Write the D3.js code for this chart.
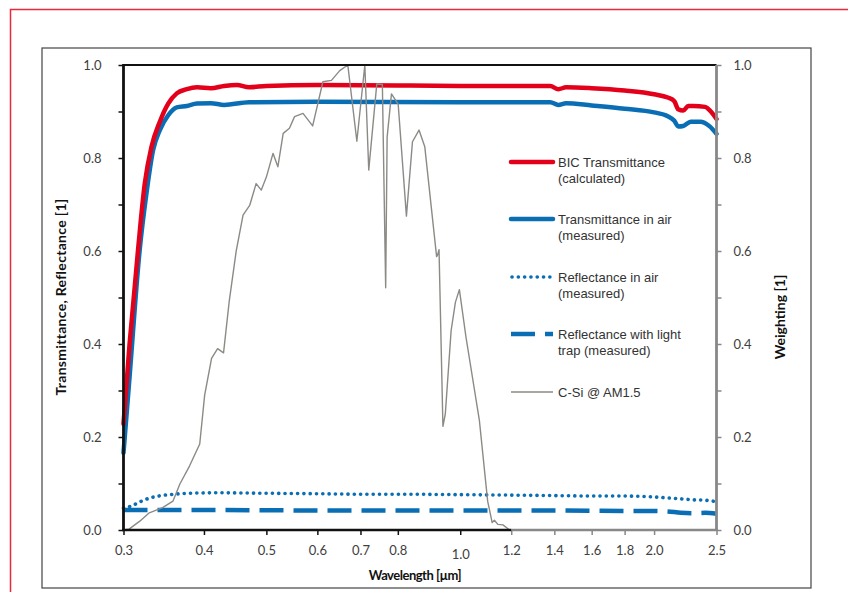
<!DOCTYPE html>
<html>
<head>
<meta charset="utf-8">
<script src="https://cdn.jsdelivr.net/npm/d3@7"></script>
<style>
  body { margin: 0; background: #fff; }
  svg { display: block; }
  .tick text { font-family: Lato, "Liberation Sans", sans-serif; font-size: 13px; fill: #404040; }
  .legend text { font-family: "Liberation Sans", Arial, sans-serif; font-size: 13px; fill: #333; }
  .title { font-family: Lato, "Liberation Sans", sans-serif; font-size: 13px; font-weight: bold; fill: #111; }
</style>
</head>
<body>
<script>
// Wavelength axis (log) and value axes
const wlTicks = [0.3, 0.4, 0.5, 0.6, 0.7, 0.8, 1.0, 1.2, 1.4, 1.6, 1.8, 2.0, 2.5];
const yTicks = [0, 0.1, 0.2, 0.3, 0.4, 0.5, 0.6, 0.7, 0.8, 0.9, 1.0];
const yLabelled = [0, 0.2, 0.4, 0.6, 0.8, 1.0];

// BIC Transmittance (calculated)
const bicWl = [0.300, 0.3066, 0.3159, 0.3237, 0.3316, 0.3416, 0.352, 0.3629, 0.3762, 0.3901, 0.41, 0.43, 0.45, 0.47, 0.5, 0.6, 0.8, 1.0, 1.2, 1.38, 1.42, 1.46, 1.6, 1.8, 2.0, 2.1, 2.15, 2.18, 2.22, 2.26, 2.3, 2.4, 2.45, 2.5];
const bicT = [0.228, 0.40, 0.60, 0.745, 0.824, 0.878, 0.917, 0.939, 0.948, 0.952, 0.950, 0.955, 0.957, 0.952, 0.955, 0.957, 0.956, 0.955, 0.955, 0.955, 0.948, 0.952, 0.950, 0.945, 0.937, 0.930, 0.922, 0.905, 0.902, 0.912, 0.912, 0.910, 0.900, 0.884];

// Transmittance in air (measured)
const airTWl = [0.300, 0.3066, 0.3178, 0.3256, 0.3335, 0.3416, 0.352, 0.3629, 0.3762, 0.3901, 0.41, 0.43, 0.47, 0.6, 1.0, 1.38, 1.42, 1.46, 1.6, 1.8, 2.0, 2.1, 2.15, 2.18, 2.22, 2.28, 2.36, 2.44, 2.5];
const airT = [0.166, 0.33, 0.601, 0.723, 0.817, 0.860, 0.892, 0.909, 0.912, 0.917, 0.918, 0.914, 0.920, 0.921, 0.920, 0.920, 0.914, 0.918, 0.913, 0.906, 0.898, 0.890, 0.880, 0.868, 0.869, 0.878, 0.878, 0.868, 0.852];

// Reflectance in air (measured)
const airRWl = [0.300, 0.305, 0.31, 0.32, 0.33, 0.34, 0.36, 0.38, 0.42, 0.5, 0.6, 0.7, 0.8, 1.0, 1.2, 1.4, 1.6, 1.8, 2.0, 2.1, 2.2, 2.3, 2.4, 2.5];
const airR = [0.047, 0.049, 0.053, 0.062, 0.069, 0.073, 0.077, 0.079, 0.080, 0.079, 0.078, 0.077, 0.077, 0.076, 0.075, 0.074, 0.073, 0.073, 0.071, 0.069, 0.067, 0.065, 0.064, 0.061];

// Reflectance with light trap (measured)
const trapWl = [0.300, 0.4, 0.6, 1.0, 1.4, 1.8, 2.0, 2.1, 2.2, 2.3, 2.4, 2.5];
const trapR = [0.043, 0.043, 0.042, 0.042, 0.042, 0.041, 0.041, 0.040, 0.037, 0.036, 0.037, 0.035];

// C-Si @ AM1.5 weighting (right axis)
const csiWl = [0.300, 0.306, 0.318, 0.329, 0.345, 0.358, 0.367, 0.380, 0.394, 0.401, 0.411, 0.420, 0.429, 0.438, 0.449, 0.460, 0.471, 0.482, 0.491, 0.500, 0.512, 0.521, 0.531, 0.543, 0.553, 0.570, 0.590, 0.612, 0.631, 0.650, 0.669, 0.691, 0.711, 0.721, 0.742, 0.757, 0.766, 0.770, 0.782, 0.801, 0.825, 0.843, 0.863, 0.881, 0.919, 0.922, 0.927, 0.940, 0.948, 0.968, 0.983, 0.997, 1.021, 1.071, 1.103, 1.121, 1.130, 1.144, 1.165, 1.193];
const csiW = [0.000, 0.002, 0.019, 0.037, 0.048, 0.062, 0.099, 0.138, 0.185, 0.290, 0.369, 0.390, 0.381, 0.494, 0.601, 0.677, 0.698, 0.745, 0.731, 0.759, 0.810, 0.781, 0.853, 0.864, 0.889, 0.896, 0.869, 0.964, 0.967, 0.988, 1.000, 0.836, 1.000, 0.774, 0.959, 0.958, 0.521, 0.845, 0.938, 0.916, 0.675, 0.835, 0.860, 0.824, 0.588, 0.591, 0.603, 0.223, 0.249, 0.429, 0.490, 0.517, 0.414, 0.235, 0.062, 0.016, 0.021, 0.012, 0.011, 0.000];

const legendLabels = [
  ["BIC Transmittance", "(calculated)"],
  ["Transmittance in air", "(measured)"],
  ["Reflectance in air", "(measured)"],
  ["Reflectance with light", "trap (measured)"],
  ["C-Si @ AM1.5"],
];

const RED = "#e2001a";
const BLUE = "#0a6eb4";
const GREY = "#8c8a85";

const W = 848, H = 592;
const svg = d3.select("body").append("svg").attr("width", W).attr("height", H);

// outer red frame (runs off right and bottom edges) and inner chart frame
svg.append("path")
  .attr("d", `M10.5,${H + 2}V9.5H${W + 2}`)
  .attr("fill", "none").attr("stroke", "#e8283c").attr("stroke-width", 1.5);
svg.append("rect")
  .attr("x", 42).attr("y", 48).attr("width", 769).attr("height", 540)
  .attr("fill", "none").attr("stroke", "#444").attr("stroke-width", 1.2);

const x = d3.scaleLog().domain([0.3, 2.5]).range([123.5, 716.5]);
const y = d3.scaleLinear().domain([0, 1]).range([530, 65]);

const zip = (a, b) => a.map((w, i) => [w, b[i]]);
const smooth = d3.line().x((d) => x(d[0])).y((d) => y(d[1])).curve(d3.curveMonotoneX);
const straight = d3.line().x((d) => x(d[0])).y((d) => y(d[1]));

// drawing order (back to front); `legend` is the row in the legend box
const series = [
  { data: zip(trapWl, trapR), line: smooth, color: BLUE, width: 4.5, dash: "24,10", cap: "butt", legend: 3 },
  { data: zip(airRWl, airR), line: smooth, color: BLUE, width: 3.6, dash: "0.1,6.2", cap: "round", legend: 2 },
  { data: zip(airTWl, airT), line: smooth, color: BLUE, width: 4.5, dash: null, cap: "round", legend: 1 },
  { data: zip(bicWl, bicT), line: smooth, color: RED, width: 4.5, dash: null, cap: "round", legend: 0 },
  { data: zip(csiWl, csiW), line: straight, color: GREY, width: 1.4, dash: null, cap: "butt", legend: 4 },
];

const plot = svg.append("g");
series.forEach((s) => {
  plot.append("path")
    .datum(s.data)
    .attr("d", s.line)
    .attr("fill", "none")
    .attr("stroke", s.color)
    .attr("stroke-width", s.width)
    .attr("stroke-linecap", s.cap)
    .attr("stroke-linejoin", "round")
    .attr("stroke-dasharray", s.dash);
});

// axes
const fmt = d3.format(".1f");
const isLabelled = (d) => yLabelled.some((v) => Math.abs(v - d) < 1e-9);

const left = svg.append("g")
  .attr("transform", "translate(123.5,0)")
  .call(d3.axisLeft(y).tickValues(yTicks).tickSize(5).tickPadding(17)
    .tickFormat((d) => (isLabelled(d) ? fmt(d) : "")));
left.select(".domain").remove();
left.selectAll("line").attr("stroke", "#111").attr("stroke-width", 1.5);

const right = svg.append("g")
  .attr("transform", "translate(716.5,0)")
  .call(d3.axisRight(y).tickValues(yTicks).tickSize(5).tickPadding(12)
    .tickFormat((d) => (isLabelled(d) ? fmt(d) : "")));
right.select(".domain").remove();
right.selectAll("line").attr("stroke", "#888").attr("stroke-width", 1.5);

const bottom = svg.append("g")
  .attr("transform", "translate(0,530)")
  .call(d3.axisBottom(x).tickValues(wlTicks).tickSize(5).tickPadding(11)
    .tickFormat(fmt));
bottom.select(".domain").remove();
bottom.selectAll("line")
  .attr("stroke", (d) => (d <= 1.0 ? "#111" : "#888"))
  .attr("stroke-width", 1.5);
bottom.selectAll("text").filter((d) => d === 1.0).attr("dy", "1em");

// axis lines: primary black, secondary grey
const frame = svg.append("g").attr("fill", "none");
frame.append("line").attr("x1", 123.5).attr("x2", 716.5).attr("y1", 65).attr("y2", 65)
  .attr("stroke", "#111").attr("stroke-width", 2.2);
frame.append("line").attr("x1", 716.5).attr("x2", 716.5).attr("y1", 65).attr("y2", 531)
  .attr("stroke", "#888").attr("stroke-width", 2.8);
frame.append("line").attr("x1", x(1.2)).attr("x2", 717.5).attr("y1", 530).attr("y2", 530)
  .attr("stroke", "#888").attr("stroke-width", 2.5);
frame.append("line").attr("x1", 122).attr("x2", x(1.2)).attr("y1", 530).attr("y2", 530)
  .attr("stroke", "#111").attr("stroke-width", 2.5);
frame.append("line").attr("x1", 123.5).attr("x2", 123.5).attr("y1", 64).attr("y2", 531)
  .attr("stroke", "#111").attr("stroke-width", 2.8);

// axis titles
svg.append("text").attr("class", "title")
  .attr("transform", "translate(66,297) rotate(-90)")
  .attr("text-anchor", "middle")
  .style("font-size", "14px")
  .style("letter-spacing", "0.3px")
  .text("Transmittance, Reflectance [1]");
svg.append("text").attr("class", "title")
  .attr("transform", "translate(785,317) rotate(-90)")
  .attr("text-anchor", "middle")
  .style("font-size", "14px")
  .text("Weighting [1]");
svg.append("text").attr("class", "title")
  .attr("x", 415).attr("y", 580)
  .attr("text-anchor", "middle")
  .style("letter-spacing", "-0.5px")
  .text("Wavelength [µm]");

// legend
const legend = svg.append("g").attr("class", "legend");
const legendY = [162, 219, 277, 334, 392];
series.forEach((s) => {
  const i = s.legend;
  const yy = legendY[i];
  legend.append("line")
    .attr("x1", s.cap === "round" && s.dash ? 512 : 511).attr("x2", 553)
    .attr("y1", yy).attr("y2", yy)
    .attr("stroke", s.color)
    .attr("stroke-width", s.width)
    .attr("stroke-linecap", s.cap)
    .attr("stroke-dasharray", s.dash);
  const t = legend.append("text").attr("x", 558).attr("y", yy + 5);
  legendLabels[i].forEach((str, j) => {
    t.append("tspan").attr("x", 558).attr("dy", j ? 16 : 0).text(str);
  });
});
</script>
</body>
</html>
